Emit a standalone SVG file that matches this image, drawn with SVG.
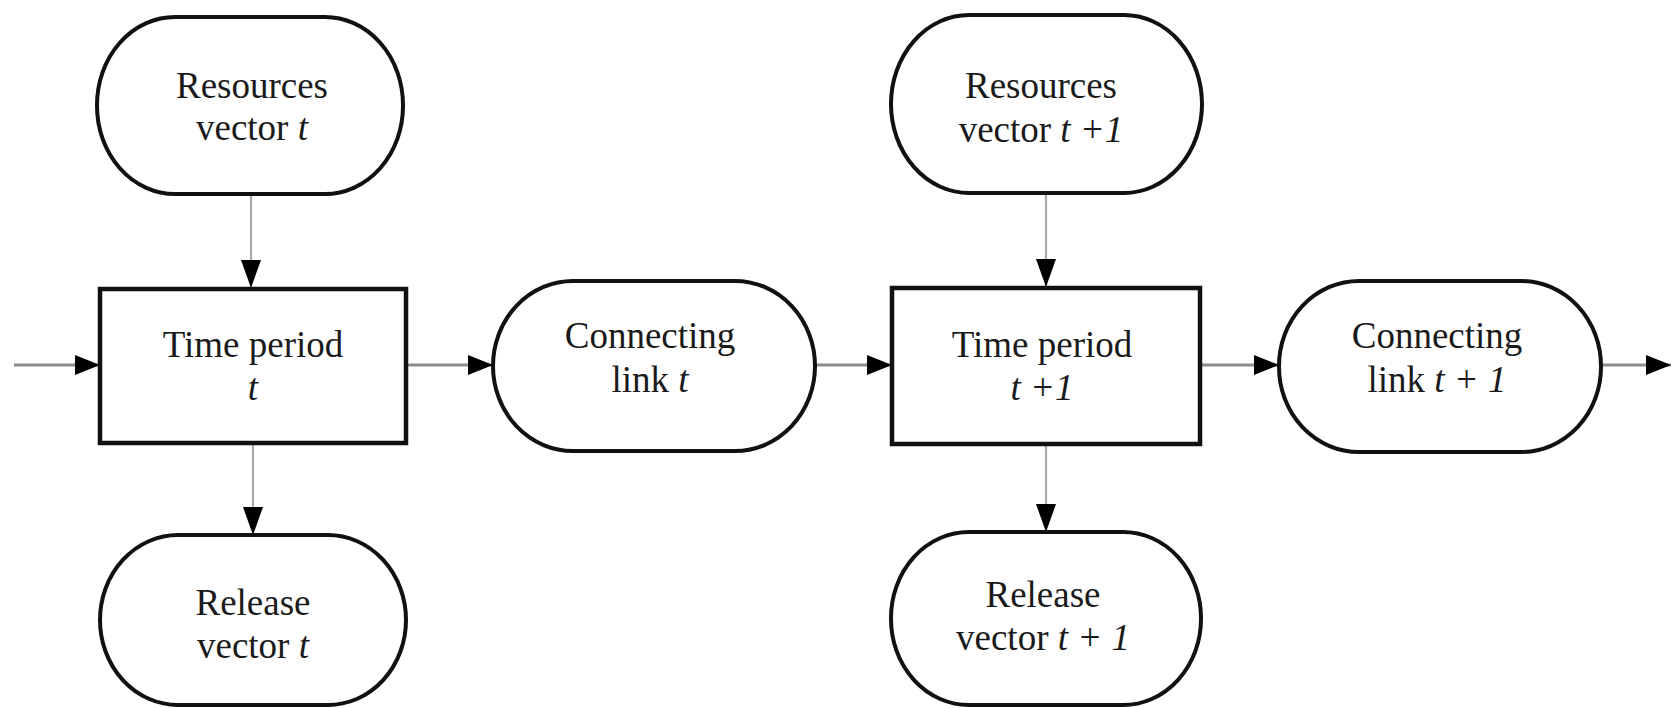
<svg xmlns="http://www.w3.org/2000/svg" width="1671" height="708" viewBox="0 0 1671 708">
<style>
.pill{fill:#fff;stroke:#111;stroke-width:4}
.box{fill:#fff;stroke:#111;stroke-width:4.5}
.lbl{font-family:"Liberation Serif","Times New Roman",serif;font-size:37px;fill:#1a1a1a;text-anchor:middle}
.it{font-style:italic}
.h{stroke:#8c8c8c;stroke-width:3;fill:none}
.v{stroke:#a8a8a8;stroke-width:2.2;fill:none}
</style>
<defs>
<marker id="ah" markerUnits="userSpaceOnUse" markerWidth="25" markerHeight="20" refX="25" refY="10" orient="auto"><path d="M0,0 L25,10 L0,20 z" fill="#000"/></marker>
<marker id="av" markerUnits="userSpaceOnUse" markerWidth="28" markerHeight="20" refX="28" refY="10" orient="auto"><path d="M0,0 L28,10 L0,20 z" fill="#000"/></marker>
</defs>
<rect width="1671" height="708" fill="#fff"/>
<g id="connectors">
<line class="h" x1="14" y1="365" x2="100" y2="365" marker-end="url(#ah)"/>
<line class="h" x1="406" y1="365" x2="493" y2="365" marker-end="url(#ah)"/>
<line class="h" x1="815" y1="365" x2="892" y2="365" marker-end="url(#ah)"/>
<line class="h" x1="1200" y1="365" x2="1279" y2="365" marker-end="url(#ah)"/>
<line class="h" x1="1601" y1="365" x2="1671" y2="365" marker-end="url(#ah)"/>
<line class="v" x1="251" y1="194" x2="251" y2="288" marker-end="url(#av)"/>
<line class="v" x1="253" y1="443" x2="253" y2="535" marker-end="url(#av)"/>
<line class="v" x1="1046" y1="193" x2="1046" y2="287" marker-end="url(#av)"/>
<line class="v" x1="1046" y1="445" x2="1046" y2="532" marker-end="url(#av)"/>
</g>
<g id="res-t">
<rect class="pill" x="97" y="17" width="306" height="177" rx="78" ry="88"/>
<text class="lbl" x="252" y="98">Resources</text>
<text class="lbl" x="252" y="140">vector <tspan class="it">t</tspan></text>
</g>
<g id="time-t">
<rect class="box" x="100" y="289" width="306" height="154"/>
<text class="lbl" x="253" y="357">Time period</text>
<text class="lbl it" x="253" y="400">t</text>
</g>
<g id="release-t">
<rect class="pill" x="100" y="535" width="306" height="170" rx="78" ry="85"/>
<text class="lbl" x="253" y="615">Release</text>
<text class="lbl" x="253" y="658">vector <tspan class="it">t</tspan></text>
</g>
<g id="link-t">
<rect class="pill" x="493" y="281" width="322" height="170" rx="80" ry="85"/>
<text class="lbl" x="650" y="348">Connecting</text>
<text class="lbl" x="650" y="392">link <tspan class="it">t</tspan></text>
</g>
<g id="res-t1">
<rect class="pill" x="891" y="15" width="311" height="178" rx="78" ry="89"/>
<text class="lbl" x="1041" y="98">Resources</text>
<text class="lbl" x="1041" y="142">vector <tspan class="it">t +1</tspan></text>
</g>
<g id="time-t1">
<rect class="box" x="892" y="288" width="308" height="156"/>
<text class="lbl" x="1042" y="357">Time period</text>
<text class="lbl it" x="1042" y="400">t +1</text>
</g>
<g id="release-t1">
<rect class="pill" x="891" y="532" width="310" height="173" rx="78" ry="86"/>
<text class="lbl" x="1043" y="607">Release</text>
<text class="lbl" x="1043" y="650">vector <tspan class="it">t + 1</tspan></text>
</g>
<g id="link-t1">
<rect class="pill" x="1279" y="281" width="322" height="171" rx="80" ry="85"/>
<text class="lbl" x="1437" y="348">Connecting</text>
<text class="lbl" x="1437" y="392">link <tspan class="it">t + 1</tspan></text>
</g>
</svg>
